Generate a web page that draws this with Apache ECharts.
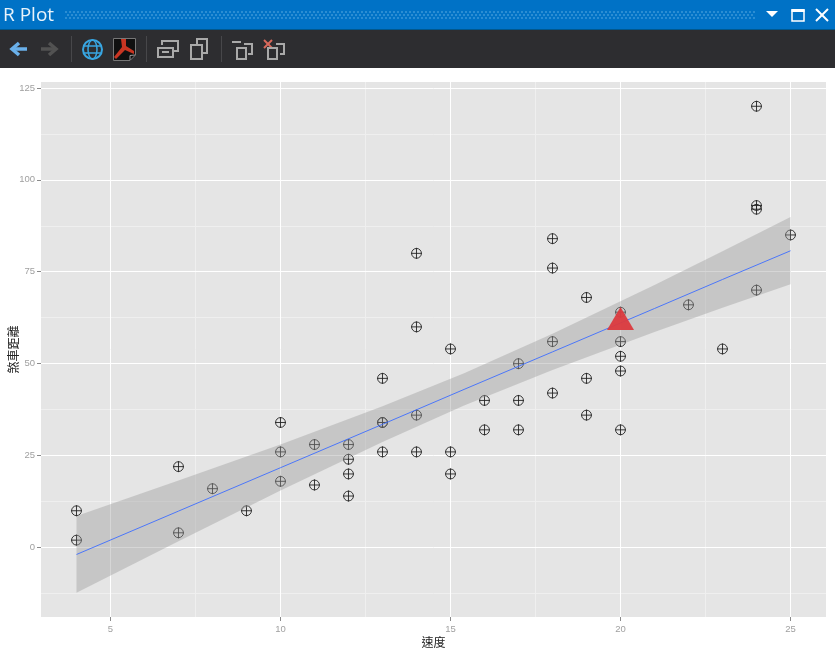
<!DOCTYPE html>
<html>
<head>
<meta charset="utf-8">
<style>html,body{margin:0;padding:0;background:#fff}#c{width:835px;height:656px}</style>
<script src="https://cdn.jsdelivr.net/npm/echarts@6/dist/echarts.min.js"></script>
</head>
<body>
<div id="c"></div>
<script>
const speed = [4,4,7,7,8,9,10,10,10,11,11,12,12,12,12,13,13,13,13,14,14,14,14,15,15,15,16,16,17,17,17,18,18,18,18,19,19,19,20,20,20,20,20,22,23,24,24,24,24,25];
const dist = [2,10,4,22,16,10,18,26,34,17,28,14,20,24,28,26,34,34,46,26,36,60,80,20,26,54,32,40,32,40,50,42,56,76,84,36,46,68,32,48,52,56,64,66,54,70,92,93,120,85];
const bandX = [4,7,10,13,15.4,18,21,23,25];
const bandLow = [-12.3,1.7,15.5,28.7,38.6,48.3,58.6,65.2,71.6];
const bandHigh = [8.6,18.2,28.0,38.4,47.4,58.1,71.4,80.6,89.9];
const fitLine = [-1.9,9.9,21.7,33.5,43.0,53.2,65.0,72.9,80.7];
const marker = [[20,62.3]];
const xTicks = [5,10,15,20,25];
const xMinor = [7.5,12.5,17.5,22.5];
const yTicks = [0,25,50,75,100,125];
const yMinor = [-12.5,12.5,37.5,62.5,87.5,112.5];
const xName = '速度';
const yName = '煞車距離';
const windowTitle = 'R Plot';

const pointData = speed.map((s, i) => [s, dist[i]]);
const bandData = bandX.map((x, i) => [x, bandLow[i], bandHigh[i]]);
const lineData = bandX.map((x, i) => [x, fitLine[i]]);
const xRange = {min: 2.956, max: 26.044};
const yRange = {min: -18.9, max: 126.6};
const cross = 'path://M0 -5A5 5 0 1 1 0 5A5 5 0 1 1 0 -5ZM-5.6 0L5.6 0M0 -5.6L0 5.6';
const iconStroke = '#a9a9a9';

function ln(points, stroke, lineWidth) {
  return {type: 'polyline', shape: {points}, style: {stroke, lineWidth, fill: null}, silent: true};
}
function box(x, y, w, h, stroke, lineWidth, fill) {
  return {type: 'rect', shape: {x, y, width: w, height: h}, style: {stroke: stroke || null, lineWidth: lineWidth || 0, fill: fill || null}, silent: true};
}
const chrome = [
  box(0, 0, 835, 29, null, 0, '#0072C6'),
  box(0, 29, 835, 1, null, 0, '#00588f'),
  box(0, 30, 835, 38, null, 0, '#2D2D30'),
  {type: 'text', x: 3, y: 6, style: {text: windowTitle, fill: '#e8f3fb', font: '19px "Open Sans", sans-serif'}, silent: true}
];
[[12, 0], [15, 2], [18, 0]].forEach(([y, off]) => {
  chrome.push({type: 'line', shape: {x1: 65 + off, y1: y, x2: 755, y2: y},
    style: {stroke: '#3a96d8', lineWidth: 1.5, lineDash: [2, 2]}, silent: true});
});
chrome.push(
  {type: 'polygon', shape: {points: [[766, 11], [778, 11], [772, 17]]}, style: {fill: '#fff'}, silent: true},
  box(792, 10, 12, 11, '#fff', 1.5),
  box(791.5, 9, 13, 3, null, 0, '#fff'),
  ln([[816, 9], [828, 21]], '#fff', 2),
  ln([[828, 9], [816, 21]], '#fff', 2),
  ln([[27, 49], [13, 49]], '#6ab0ea', 3.5),
  ln([[19, 43], [12, 49], [19, 55]], '#6ab0ea', 3.5),
  ln([[41, 49], [55, 49]], '#525252', 3.5),
  ln([[49, 43], [56, 49], [49, 55]], '#525252', 3.5),
  box(71, 36, 1, 26, null, 0, '#47474a'),
  box(146, 36, 1, 26, null, 0, '#47474a'),
  box(221, 36, 1, 26, null, 0, '#47474a'),
  {type: 'circle', shape: {cx: 92.5, cy: 49.5, r: 9.5}, style: {stroke: '#38a6e2', lineWidth: 2, fill: null}, silent: true},
  {type: 'ellipse', shape: {cx: 92.5, cy: 49.5, rx: 4.5, ry: 9.5}, style: {stroke: '#38a6e2', lineWidth: 1.5, fill: null}, silent: true},
  ln([[83, 46], [102, 46]], '#38a6e2', 1.5),
  ln([[83, 53], [102, 53]], '#38a6e2', 1.5),
  {type: 'polygon', shape: {points: [[113.5, 38.5], [135.5, 38.5], [135.5, 55], [130, 60.5], [113.5, 60.5]]}, style: {fill: '#101010', stroke: '#777', lineWidth: 1}, silent: true},
  ln([[135, 55], [130, 55.5], [130, 60]], '#999', 1),
  {type: 'polygon', shape: {points: [[121, 39], [126, 39], [126, 46], [134, 51], [134, 54], [125, 50], [116, 59], [114, 57], [122, 47]]}, style: {fill: '#c93522'}, silent: true},
  ln([[162, 45], [162, 41], [178, 41], [178, 51], [174, 51]], iconStroke, 2),
  box(158, 48, 15, 9, iconStroke, 2),
  ln([[162, 52], [169, 52]], iconStroke, 2),
  ln([[197, 44], [197, 39], [207, 39], [207, 53], [203, 53]], iconStroke, 2),
  box(191, 45, 11, 14, iconStroke, 2),
  ln([[232, 42], [241, 42]], iconStroke, 2),
  ln([[244, 44], [252, 44], [252, 54], [248, 54]], iconStroke, 2),
  box(237, 48, 9, 11, iconStroke, 2),
  ln([[264, 40], [272, 48]], '#d9695c', 2),
  ln([[272, 40], [264, 48]], '#d9695c', 2),
  ln([[276, 44], [284, 44], [284, 54], [280, 54]], iconStroke, 2),
  box(268, 48, 9, 11, iconStroke, 2)
);

const chart = echarts.init(document.getElementById('c'), null, {renderer: 'canvas'});
const tickStyle = {show: true, length: 4, lineStyle: {color: '#8a8a8a', width: 1}};
const labelStyle = {color: '#a0a0a0', fontSize: 9.5, fontFamily: '"Liberation Sans", Arial, sans-serif'};
const nameStyle = {color: '#222', fontSize: 12, fontFamily: '"Noto Sans CJK TC", sans-serif'};
chart.setOption({
  animation: false,
  backgroundColor: '#ffffff',
  graphic: chrome,
  grid: {left: 41, top: 82, width: 785, height: 535, show: true, backgroundColor: '#E5E5E5', borderWidth: 0, containLabel: false, outerBoundsMode: 'none'},
  xAxis: [
    {type: 'value', ...xRange, position: 'bottom', name: xName, nameLocation: 'middle', nameGap: 19, nameMoveOverlap: false, nameTextStyle: nameStyle,
      axisLine: {show: false, onZero: false}, axisTick: {...tickStyle, customValues: xTicks},
      axisLabel: {...labelStyle, margin: 7, customValues: xTicks},
      splitLine: {show: true, lineStyle: {color: '#ffffff', width: 1}}, z: 2},
    {type: 'value', ...xRange, position: 'top', axisLine: {show: false, onZero: false},
      axisTick: {show: false, customValues: xMinor},
      axisLabel: {show: false},
      splitLine: {show: true, lineStyle: {color: '#EFEFEF', width: 1}}, z: 1}
  ],
  yAxis: [
    {type: 'value', ...yRange, position: 'left', name: yName, nameLocation: 'middle', nameGap: 22, nameMoveOverlap: false, nameTextStyle: nameStyle,
      axisLine: {show: false, onZero: false}, axisTick: {...tickStyle, customValues: yTicks},
      axisLabel: {...labelStyle, margin: 6, customValues: yTicks},
      splitLine: {show: true, lineStyle: {color: '#ffffff', width: 1}}, z: 2},
    {type: 'value', ...yRange, position: 'right', axisLine: {show: false, onZero: false},
      axisTick: {show: false, customValues: yMinor},
      axisLabel: {show: false},
      splitLine: {show: true, lineStyle: {color: '#EFEFEF', width: 1}}, z: 1}
  ],
  series: [
    {type: 'scatter', name: 'points', data: pointData, symbol: cross, symbolSize: 11, silent: true, z: 3,
      itemStyle: {color: 'rgba(0,0,0,0)', borderColor: '#222', borderWidth: 0.9, opacity: 1}},
    {type: 'custom', name: 'band', data: bandData, z: 4, silent: true, encode: {x: 0, y: [1, 2]},
      renderItem(params, api) {
        if (params.dataIndex !== 0) return null;
        const top = bandData.map(d => api.coord([d[0], d[2]]));
        const bottom = bandData.map(d => api.coord([d[0], d[1]])).reverse();
        return {type: 'polygon', shape: {points: top.concat(bottom)}, style: {fill: 'rgba(153,153,153,0.4)'}};
      }},
    {type: 'line', name: 'fit', data: lineData, showSymbol: false, silent: true, z: 5,
      lineStyle: {color: '#3d6dff', width: 0.9}},
    {type: 'scatter', name: 'marker', data: marker, symbol: 'triangle', symbolSize: [27, 23], silent: true, z: 6,
      itemStyle: {color: '#db3a3e', opacity: 0.95}}
  ]
});
</script>
</body>
</html>
